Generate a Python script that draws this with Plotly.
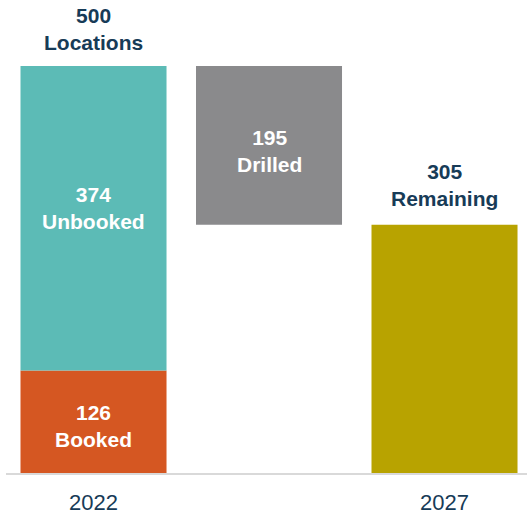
import plotly.graph_objects as go

# Drilling inventory: 2022 locations split into booked/unbooked, drilled through 2027, remaining
years = ["2022", "", "2027"]
booked = 126
unbooked = 374
drilled = 195
total_2022 = booked + unbooked
remaining = total_2022 - drilled

NAVY = "#173B57"
TEAL = "#5CBBB6"
ORANGE = "#D55722"
GRAY = "#8A8A8C"
OLIVE = "#B8A300"
FONT = "Liberation Sans, Arial, sans-serif"

xpos = [0, 1, 2]
bar_w = 0.832

fig = go.Figure()
# (x, base, height, colour, label word, vertical nudge in px)
segments = [
    (xpos[0], 0, booked, ORANGE, "Booked", -4),
    (xpos[0], booked, unbooked, TEAL, "Unbooked", 10),
    (xpos[1], remaining, drilled, GRAY, "Drilled", -6),
    (xpos[2], 0, remaining, OLIVE, None, 0),
]
for xv, base, h, col, word, nudge in segments:
    fig.add_bar(x=[xv], y=[h], base=[base], width=bar_w, marker_color=col,
                marker_line_width=0)
    if word:
        fig.add_annotation(x=xv, y=base + h / 2, text=f"<b>{h}<br>{word}</b>",
                           showarrow=False, yanchor="middle", yshift=nudge,
                           font=dict(family=FONT, size=21, color="white"))

for xv, yv, word, gap in [(xpos[0], total_2022, "Locations", 10), (xpos[2], remaining, "Remaining", 13)]:
    fig.add_annotation(x=xv, y=yv, text=f"<b>{yv}<br>{word}</b>", showarrow=False,
                       yanchor="bottom", yshift=gap,
                       font=dict(family=FONT, size=21, color=NAVY))

fig.update_layout(
    width=527, height=512,
    margin=dict(l=6, r=0, t=0, b=39, autoexpand=False),
    paper_bgcolor="white", plot_bgcolor="white",
    showlegend=False, barmode="overlay",
)
fig.update_xaxes(range=[-0.4986, 2.470], tickvals=xpos, ticktext=years,
                 showgrid=False, zeroline=False, showline=True,
                 linecolor="#D9D9D9", linewidth=2, automargin=False,
                 tickfont=dict(family=FONT, size=22, color=NAVY),
                 ticks="", ticklabelstandoff=9)
fig.update_yaxes(range=[0, 581], visible=False, automargin=False)

fig.write_html("out.html")
